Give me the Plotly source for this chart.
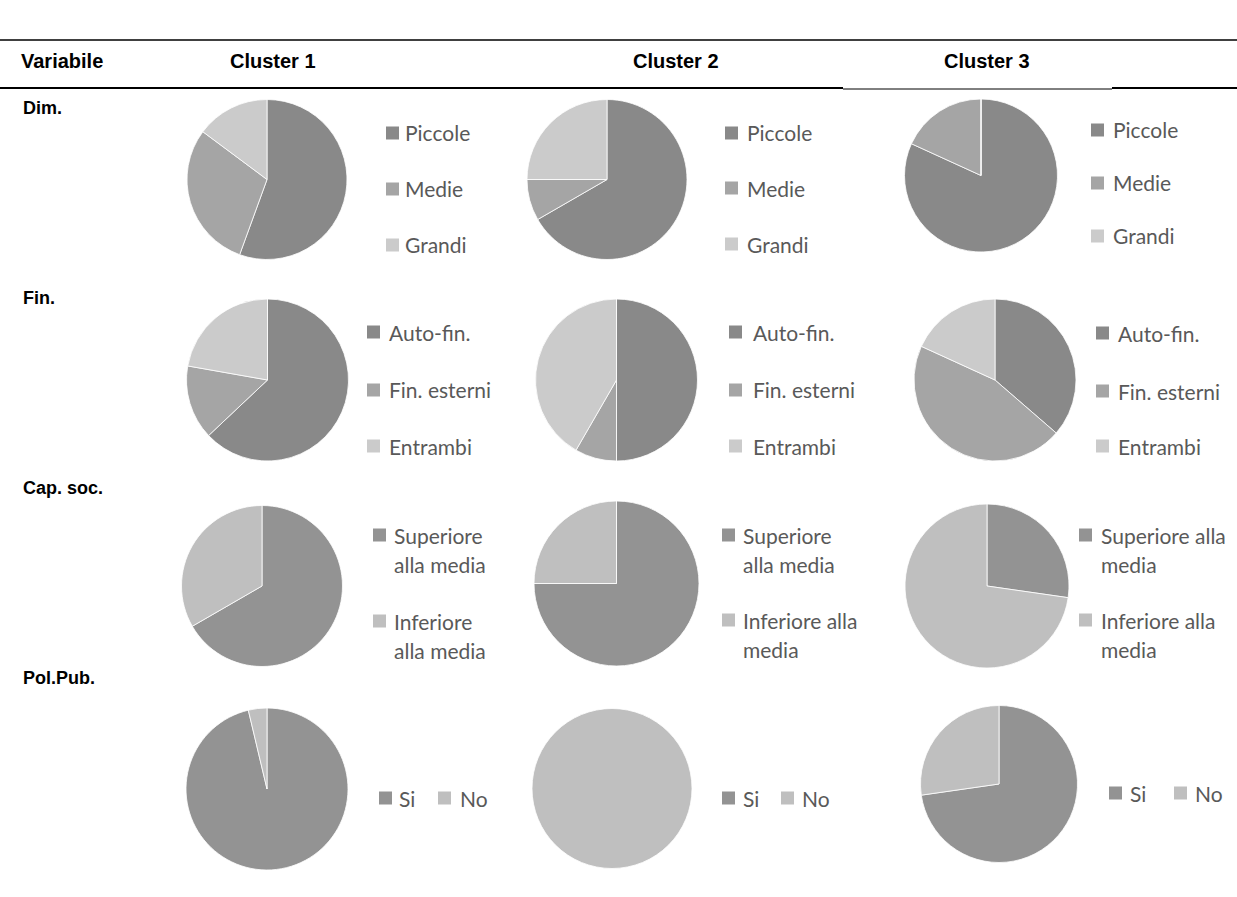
import plotly.graph_objects as go

W, H = 1237, 897

# ---------------- data ----------------
clusters = ["Cluster 1", "Cluster 2", "Cluster 3"]
variables = ["Dim.", "Fin.", "Cap. soc.", "Pol.Pub."]
header_first = "Variabile"

dim_labels = ["Piccole", "Medie", "Grandi"]
fin_labels = ["Auto-fin.", "Fin. esterni", "Entrambi"]
cap_labels = ["Superiore alla media", "Inferiore alla media"]
pol_labels = ["Si", "No"]

# firms per category in each cluster (27, 12 and 11 firms)
dim_counts = [[15, 8, 4], [8, 1, 3], [9, 2, 0]]
fin_counts = [[17, 4, 6], [6, 1, 5], [4, 5, 2]]
cap_counts = [[18, 9], [9, 3], [3, 8]]
pol_counts = [[26, 1], [0, 12], [8, 3]]

rows = [
    (dim_labels, dim_counts),
    (fin_labels, fin_counts),
    (cap_labels, cap_counts),
    (pol_labels, pol_counts),
]

# ---------------- styling / layout ----------------
GREYS3 = ["#898989", "#a5a5a5", "#cbcbcb"]
GREYS2 = ["#939393", "#bfbfbf"]
LEG_FONT = dict(family="Lato, Noto Sans, sans-serif", size=21, color="#595959")
HEAD_FONT = dict(family="Liberation Sans, Arial, sans-serif", size=20, color="#000000")
ROW_FONT = dict(family="Liberation Sans, Arial, sans-serif", size=18, color="#000000")

# pie centre (x, y) and radius in pixels for each row / column
PIE_GEOM = [
    [(267, 179.5, 80), (607, 179.5, 80), (981, 175.5, 76.5)],
    [(267.5, 380, 81), (616.5, 380, 81), (995, 380, 81)],
    [(262, 586, 80.5), (616.5, 583.5, 82.5), (987, 586, 82)],
    [(267, 789, 81), (612, 788.5, 80), (999, 784, 78.5)],
]
# legend: swatch left x, text left x, centre y of each item
LEG_GEOM = [
    [(386, 403, [133, 189, 245]), (725, 745, [133, 188, 244]), (1091, 1111, [130, 183, 236])],
    [(367, 387, [332, 390, 446]), (729, 751, [332, 390, 446]), (1096, 1116, [333, 391, 446])],
    [(373, 392, [535, 621]), (722, 741, [535, 620]), (1079, 1099, [535, 620])],
]
CAP_BREAKS = [[1, 1], [1, 2], [2, 2]]  # words on the first line of each wrapped label
CAP_LINE_GAP = 29.5
# horizontal legend of the last row: (Si swatch x, Si text x, No swatch x, No text x, y)
POL_LEG = [(379, 397, 438, 458, 798), (722, 741, 781, 800, 798), (1109, 1128, 1174, 1193, 793)]
SW = 13  # swatch size


def px(x):
    return x / W


def py(y):
    return 1 - y / H


fig = go.Figure()
shapes = []
annotations = []

for r, (labels, counts) in enumerate(rows):
    colors = GREYS3 if len(labels) == 3 else GREYS2
    for c in range(3):
        cx, cy, rad = PIE_GEOM[r][c]
        fig.add_trace(go.Pie(
            labels=labels,
            values=counts[c],
            sort=False,
            direction="clockwise",
            rotation=0,
            textinfo="none",
            hoverinfo="label+value+percent",
            marker=dict(colors=colors, line=dict(color="#ffffff", width=0.8)),
            domain=dict(x=[px(cx - rad), px(cx + rad)], y=[py(cy + rad), py(cy - rad)]),
            showlegend=False,
        ))

        def swatch(x0, yc, col):
            shapes.append(dict(type="rect", xref="paper", yref="paper",
                               x0=px(x0), x1=px(x0 + SW), y0=py(yc + SW / 2), y1=py(yc - SW / 2),
                               fillcolor=col, line=dict(width=0)))

        def text(x0, yc, s):
            annotations.append(dict(text=s, x=px(x0), y=py(yc), xref="paper", yref="paper",
                                    xanchor="left", yanchor="middle", showarrow=False,
                                    font=LEG_FONT))

        if r < 2:
            sx, tx, ys = LEG_GEOM[r][c]
            for lab, col, yc in zip(labels, colors, ys):
                swatch(sx, yc, col)
                text(tx, yc, lab)
        elif r == 2:
            sx, tx, ys = LEG_GEOM[r][c]
            for k, (lab, col, yc) in enumerate(zip(labels, colors, ys)):
                words = lab.split(" ")
                n = CAP_BREAKS[c][k]
                swatch(sx, yc, col)
                text(tx, yc, " ".join(words[:n]))
                text(tx, yc + CAP_LINE_GAP, " ".join(words[n:]))
        else:
            s_sx, s_tx, n_sx, n_tx, yc = POL_LEG[c]
            swatch(s_sx, yc, colors[0])
            text(s_tx, yc, labels[0])
            swatch(n_sx, yc, colors[1])
            text(n_tx, yc, labels[1])

# header row
header_x = [62, 273, 676, 987]
for x, s in zip(header_x, [header_first] + clusters):
    annotations.append(dict(text="<b>%s</b>" % s, x=px(x), y=py(61), xref="paper", yref="paper",
                            xanchor="center", yanchor="middle", showarrow=False, font=HEAD_FONT))

# row labels
row_label_y = [108, 298, 488, 678]
for y, s in zip(row_label_y, variables):
    annotations.append(dict(text="<b>%s</b>" % s, x=px(21), y=py(y), xref="paper", yref="paper",
                            xanchor="left", yanchor="middle", showarrow=False, font=ROW_FONT))

# table rules
def hline(x0, x1, y, w):
    shapes.append(dict(type="line", xref="paper", yref="paper", x0=px(x0), x1=px(x1),
                       y0=py(y), y1=py(y), line=dict(color="#000000", width=w)))

hline(0, W, 40, 1.5)
hline(0, 843, 88, 2)
hline(843, 1112, 89, 1)
hline(1112, W, 88, 2)

fig.update_layout(
    width=W, height=H,
    margin=dict(l=0, r=0, t=0, b=0),
    paper_bgcolor="#ffffff", plot_bgcolor="#ffffff",
    showlegend=False,
    shapes=shapes,
    annotations=annotations,
)

fig.write_html("out.html")
